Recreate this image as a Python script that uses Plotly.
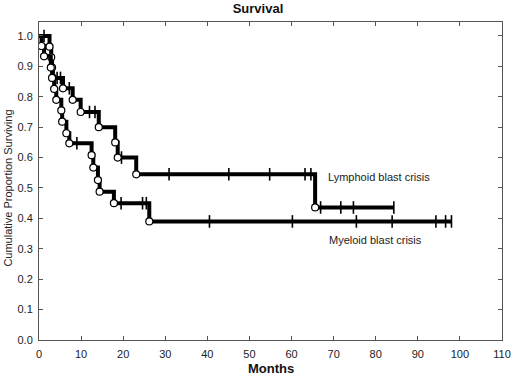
import numpy as np
import plotly.graph_objects as go

# ---- data ----
lymph_event_times = [2.5, 2.9, 3.1, 3.3, 5.7, 8.0, 9.9, 14.2, 18.1, 18.7, 23.1, 65.6]
lymph_event_surv = [0.965, 0.930, 0.896, 0.862, 0.828, 0.790, 0.750, 0.700, 0.650, 0.600, 0.545, 0.436]
lymph_censor_times = [1.2, 4.3, 5.1, 7.2, 12.0, 13.3, 19.6, 30.9, 45.1, 54.8, 63.2, 64.6, 66.9, 71.7, 74.7, 84.3]
lymph_end = 84.3

myelo_event_times = [0.6, 1.2, 2.8, 3.1, 3.6, 4.1, 5.3, 5.5, 6.5, 7.2, 12.5, 12.9, 14.0, 14.4, 17.8, 26.2]
myelo_event_surv = [0.967, 0.933, 0.896, 0.862, 0.826, 0.790, 0.755, 0.718, 0.680, 0.647, 0.608, 0.567,
                    0.526, 0.488, 0.450, 0.390]
myelo_censor_times = [9.0, 19.5, 24.6, 25.5, 40.5, 60.2, 75.4, 83.9, 94.3, 96.6, 98.0]
myelo_end = 98.0

x_ticks = list(range(0, 111, 10))
y_ticks = [round(0.1 * i, 1) for i in range(11)]

labels = ["Lymphoid blast crisis", "Myeloid blast crisis"]
label_pos = [(68.2, 0.535), (68.5, 0.329)]


def surv_at(times, surv, t):
    idx = np.searchsorted(np.array(times), t, side="right")
    return 1.0 if idx == 0 else surv[idx - 1]


fig = go.Figure()
for ev_t, ev_s, cen_t, end in [
    (lymph_event_times, lymph_event_surv, lymph_censor_times, lymph_end),
    (myelo_event_times, myelo_event_surv, myelo_censor_times, myelo_end),
]:
    xs = [0.0] + ev_t + [end]
    ys = [1.0] + ev_s + [ev_s[-1]]
    fig.add_trace(go.Scatter(x=xs, y=ys, mode="lines", line=dict(color="black", width=4, shape="hv"),
                             hoverinfo="skip", showlegend=False))
    cy = [surv_at(ev_t, ev_s, t) for t in cen_t]
    fig.add_trace(go.Scatter(x=cen_t, y=cy, mode="markers",
                             marker=dict(symbol="line-ns", size=9, line=dict(color="black", width=1.6)),
                             showlegend=False))
    fig.add_trace(go.Scatter(x=ev_t, y=ev_s, mode="markers",
                             marker=dict(symbol="circle", size=7, color="white",
                                         line=dict(color="black", width=1.2)),
                             showlegend=False))

for txt, (lx, ly) in zip(labels, label_pos):
    fig.add_annotation(x=lx, y=ly, text=txt, showarrow=False, xanchor="left", yanchor="middle",
                       font=dict(family="Liberation Sans, Arial", size=11, color="#222"))

fig.add_annotation(xref="paper", yref="paper", x=(7 - 39) / 472, y=(340 - 188) / 318, text="Cumulative Proportion Surviving",
                   textangle=-90, showarrow=False, xanchor="center", yanchor="middle",
                   font=dict(family="Liberation Sans, Arial", size=11, color="#222"))
fig.add_annotation(xref="paper", yref="paper", x=0.5, y=-(368 - 340) / 318, text="<b>Months</b>",
                   showarrow=False, xanchor="center", yanchor="middle",
                   font=dict(family="Liberation Sans, Arial", size=13, color="#111"))

axis_common = dict(showgrid=False, zeroline=False, showline=True, linecolor="#555", linewidth=1,
                   mirror="ticks", ticks="inside", ticklen=4, tickcolor="#555", tickwidth=1,
                   tickfont=dict(family="Liberation Sans, Arial", size=11, color="#222"))

fig.update_layout(
    width=520, height=379,
    margin=dict(l=39, r=9, t=22, b=39),
    paper_bgcolor="white", plot_bgcolor="white",
    title=dict(text="<b>Survival</b>", x=(258 / 520), xref="container", xanchor="center",
               y=1 - 8 / 379, yref="container", yanchor="middle",
               font=dict(family="Liberation Sans, Arial", size=13, color="#111")),
    xaxis=dict(range=[0, 110], tickvals=x_ticks, ticktext=[str(v) for v in x_ticks],
               ticklabelstandoff=4, **axis_common),
    yaxis=dict(range=[0, 1.046], tickvals=y_ticks, ticktext=[f"{v:.1f}" for v in y_ticks],
               ticklabelstandoff=3, **axis_common),
)

fig.write_html("out.html", config={"displayModeBar": False},
               post_script="document.body.style.margin='0';document.body.style.overflow='hidden';")
